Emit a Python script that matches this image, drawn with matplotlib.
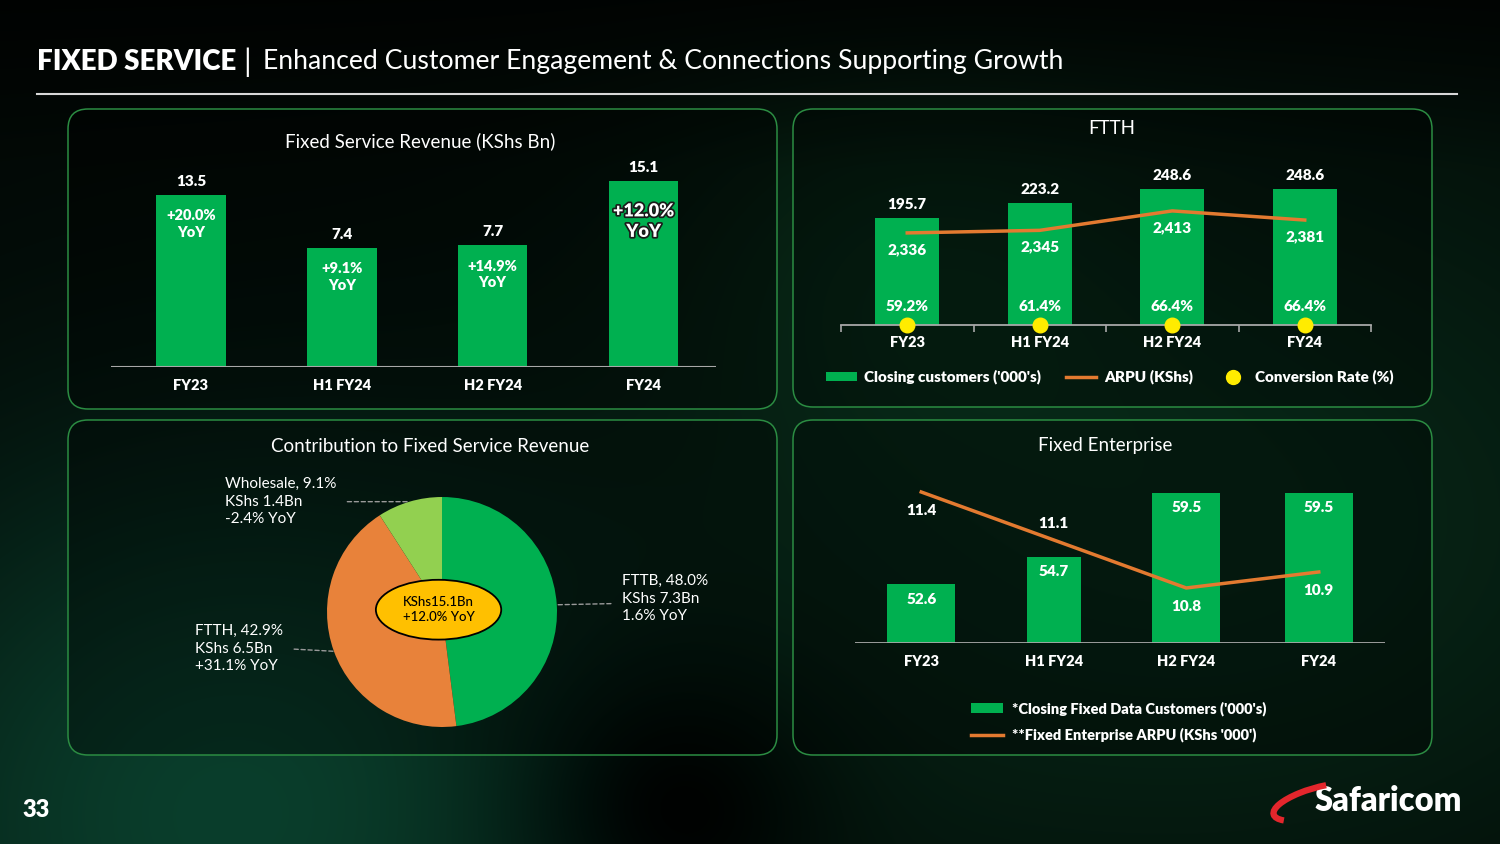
import numpy as np
import matplotlib
matplotlib.use("Agg")
import matplotlib.pyplot as plt
import matplotlib.patheffects as pe
from matplotlib.patches import FancyBboxPatch, Ellipse, Patch, Arc
from matplotlib.lines import Line2D

plt.rcParams["font.family"] = ["Lato", "DejaVu Sans"]

# ── Data ─────────────────────────────────────────────────────────────────────
periods = ["FY23", "H1 FY24", "H2 FY24", "FY24"]

revenue = [13.5, 7.4, 7.7, 15.1]                  # KShs Bn
revenue_yoy = ["+20.0%", "+9.1%", "+14.9%", "+12.0%"]

ftth_customers = [195.7, 223.2, 248.6, 248.6]     # '000s
ftth_arpu = [2336, 2345, 2413, 2381]              # KShs
ftth_conversion = [59.2, 61.4, 66.4, 66.4]        # %

ent_customers = [52.6, 54.7, 59.5, 59.5]          # '000s
ent_arpu = [11.4, 11.1, 10.8, 10.9]               # KShs '000

pie_names = ["FTTB", "FTTH", "Wholesale"]
pie_share = [48.0, 42.9, 9.1]
pie_value = [7.3, 6.5, 1.4]
pie_yoy = ["1.6%", "+31.1%", "-2.4%"]
pie_total = 15.1
pie_total_yoy = "+12.0%"

# ── Style ────────────────────────────────────────────────────────────────────
GREEN = "#00b050"
LIGHT_GREEN = "#92d050"
ORANGE = "#e8823a"
LINE_ORANGE = "#e37a30"
YELLOW = "#ffec00"
GOLD = "#ffc000"
BORDER = "#2b8c42"
AXIS_GREY = "#a8a8a8"
HEAVY = "heavy"

W, H = 1500, 844
fig = plt.figure(figsize=(W / 100, H / 100), dpi=100)


def px_axes(x0, y0, x1, y1):
    """Axes placed by pixel box (top-left origin)."""
    return fig.add_axes([x0 / W, 1 - y1 / H, (x1 - x0) / W, (y1 - y0) / H])


def fig_xy(x, y):
    return x / W, 1 - y / H


# ── Background ───────────────────────────────────────────────────────────────
bg = px_axes(0, 0, W, H)
yy, xx = np.mgrid[0:H, 0:W]
img = np.zeros((H, W, 3))
img[:] = (0.008, 0.028, 0.018)


def glow(cx, cy, rx, ry, col):
    d = ((xx - cx) / rx) ** 2 + ((yy - cy) / ry) ** 2
    return np.exp(-d)[..., None] * np.array(col)


img += glow(220, 820, 420, 380, (0.03, 0.21, 0.15))
img += glow(1200, 520, 600, 420, (0.02, 0.12, 0.07))
img += glow(900, 250, 250, 200, (0.01, 0.06, 0.03))
img -= glow(660, 800, 160, 140, (0.03, 0.12, 0.08))
img *= np.clip(0.35 + yy / 260, 0, 1)[..., None]
img = np.clip(img, 0, 1)
bg.imshow(img, extent=(0, W, H, 0), aspect="auto", zorder=0)
bg.set_xlim(0, W)
bg.set_ylim(H, 0)
bg.axis("off")

# panels
for (x0, y0, x1, y1) in [(68, 109, 777, 409), (793, 109, 1432, 407),
                         (68, 420, 777, 755), (793, 420, 1432, 755)]:
    bg.add_patch(FancyBboxPatch((x0, y0), x1 - x0, y1 - y0,
                                boxstyle="round,pad=0,rounding_size=20",
                                facecolor="black", alpha=0.35, edgecolor="none"))
    bg.add_patch(FancyBboxPatch((x0, y0), x1 - x0, y1 - y0,
                                boxstyle="round,pad=0,rounding_size=20",
                                facecolor="none", edgecolor=BORDER, lw=1.1))

# header
bg.text(37, 62, "FIXED SERVICE", color="white", fontsize=20, fontweight=HEAVY, va="center")
bg.text(243, 62, "|", color="white", fontsize=22, va="center")
bg.text(263, 62, "Enhanced Customer Engagement & Connections Supporting Growth",
        color="white", fontsize=19.2, va="center")
bg.plot([37, 1457], [94, 94], color="#d8d8d8", lw=1.5)

# footer
bg.text(22, 810, "33", color="white", fontsize=17, fontweight=HEAVY, va="center")
bg.text(1462, 801, "Safaricom", color="white", fontsize=23.5, fontweight=HEAVY,
        va="center", ha="right")
logo = px_axes(1262, 770, 1342, 830)
logo.set_xlim(0, 80)
logo.set_ylim(0, 60)
logo.axis("off")
logo.add_patch(Arc((58, 28), 96, 30, angle=15, theta1=55, theta2=192,
                   color="#e3262c", lw=4.5))

# panel titles
bg.text(420, 141, "Fixed Service Revenue (KShs Bn)", color="white", fontsize=13.5,
        ha="center", va="center")
bg.text(1112, 128, "FTTH", color="white", fontsize=13.5, ha="center", va="center")
bg.text(430, 446, "Contribution to Fixed Service Revenue", color="white", fontsize=13.5,
        ha="center", va="center")
bg.text(1105, 445, "Fixed Enterprise", color="white", fontsize=13.5,
        ha="center", va="center")


def clean(ax):
    ax.set_facecolor("none")
    for s in ax.spines.values():
        s.set_visible(False)
    ax.set_yticks([])
    ax.tick_params(axis="x", length=0, colors="white", labelsize=10.5, pad=9)
    for lab in ax.get_xticklabels():
        lab.set_fontweight(HEAVY)


x = np.arange(len(periods))

# ── 1. Fixed Service Revenue ─────────────────────────────────────────────────
ax1 = px_axes(111, 160, 716, 367)
BASE1 = -6.3
ax1.bar(x, np.array(revenue) - BASE1, bottom=BASE1, width=0.46, color=GREEN, zorder=2)
ax1.axhline(BASE1, color=AXIS_GREY, lw=1.5, zorder=3)
ax1.set_xlim(-0.53, 3.48)
ax1.set_ylim(BASE1, 17.5)
ax1.set_xticks(x, periods)
clean(ax1)
for i, (v, yoy) in enumerate(zip(revenue, revenue_yoy)):
    ax1.annotate(f"{v}", (i, v), xytext=(0, 5), textcoords="offset points",
                 ha="center", va="bottom", color="white", fontsize=11, fontweight=HEAVY)
    if i == 3:
        ax1.annotate(f"{yoy}\nYoY", (i, v), xytext=(0, -29), textcoords="offset points",
                     ha="center", va="center", color="white", fontsize=13,
                     fontweight=HEAVY, linespacing=1.25,
                     path_effects=[pe.withStroke(linewidth=2.5, foreground="#1a1a1a")])
    else:
        ax1.annotate(f"{yoy}\nYoY", (i, v), xytext=(0, -21), textcoords="offset points",
                     ha="center", va="center", color="white", fontsize=10.5,
                     fontweight=HEAVY, linespacing=1.3)

# ── 2. FTTH ──────────────────────────────────────────────────────────────────
ax2 = px_axes(841, 160, 1371, 325)
ax2.bar(x, ftth_customers, width=0.48, color=GREEN, zorder=2)
ax2.set_xlim(-0.5, 3.5)
ax2.set_ylim(0, 301)
ax2.set_xticks(x, periods)
clean(ax2)
ax2.spines["bottom"].set_visible(True)
ax2.spines["bottom"].set_color(AXIS_GREY)
ax2.spines["bottom"].set_linewidth(1.3)
ax2.set_xticks(np.arange(-0.5, 4), minor=True)
ax2.tick_params(axis="x", which="minor", length=5, color=AXIS_GREY, width=1.2)
ax2.tick_params(axis="x", which="major", pad=8)
ax2.scatter(x, np.zeros(len(x)), s=110, color=YELLOW, zorder=5, clip_on=False)
for i, (v, c) in enumerate(zip(ftth_customers, ftth_conversion)):
    ax2.annotate(f"{v}", (i, v), xytext=(0, 5), textcoords="offset points",
                 ha="center", va="bottom", color="white", fontsize=11, fontweight=HEAVY)
    ax2.annotate(f"{c}%", (i, 0), xytext=(0, 13.5), textcoords="offset points",
                 ha="center", va="center", color="white", fontsize=11, fontweight=HEAVY)

ax2b = ax2.twinx()
ax2b.plot(x, ftth_arpu, color=LINE_ORANGE, lw=2.5, zorder=3)
ax2b.set_ylim(2014, 2591)
ax2b.set_facecolor("none")
for s in ax2b.spines.values():
    s.set_visible(False)
ax2b.set_yticks([])
for i, a in enumerate(ftth_arpu):
    ax2b.annotate(f"{a:,}", (i, a), xytext=(0, -12), textcoords="offset points",
                  ha="center", va="center", color="white", fontsize=11, fontweight=HEAVY)

leg2 = [Patch(facecolor=GREEN, label="Closing customers ('000's)"),
        Line2D([], [], color=LINE_ORANGE, lw=2.5, label="ARPU (KShs)"),
        Line2D([], [], color=YELLOW, marker="o", ls="", markersize=10,
               label="Conversion Rate (%)")]
fig.legend(handles=leg2, loc="center", bbox_to_anchor=fig_xy(1110, 377), ncol=3,
           frameon=False, labelcolor="white", handlelength=2.0, handleheight=0.5,
           columnspacing=1.6, handletextpad=0.5,
           prop={"size": 11, "weight": HEAVY})

# ── 3. Contribution pie ──────────────────────────────────────────────────────
ax3 = px_axes(442 - 115, 612 - 115, 442 + 115, 612 + 115)
wedges, _ = ax3.pie(pie_share, colors=[GREEN, ORANGE, LIGHT_GREEN], startangle=90,
                    counterclock=False, radius=1, wedgeprops={"linewidth": 0})
ax3.set_xlim(-1, 1)
ax3.set_ylim(-1, 1)
ax3.set_aspect("equal")
ax3.add_patch(Ellipse((-0.03, 0.02), 1.09, 0.52, facecolor=GOLD, edgecolor="black",
                      lw=1.3, zorder=5))
ax3.text(-0.03, 0.02, f"KShs{pie_total}Bn\n{pie_total_yoy} YoY", ha="center",
         va="center", fontsize=9.5, color="black", zorder=6, linespacing=1.3,
         fontweight="medium")

label_style = {
    # name: (dx, dy, ha, relpos)
    "FTTB": (47, 4.5, "left", (0, 0.4)),
    "FTTH": (-100, 2, "left", (1, 0.5)),
    "Wholesale": (-133, 0, "left", (1, 0.5)),
}
for w, name, sh, val, yoy in zip(wedges, pie_names, pie_share, pie_value, pie_yoy):
    mid = np.deg2rad((w.theta1 + w.theta2) / 2)
    anchor = (np.cos(mid), np.sin(mid))
    dx, dy, ha, rel = label_style[name]
    ax3.annotate(f"{name}, {sh}%\nKShs {val}Bn\n{yoy} YoY", anchor,
                 xytext=(dx, dy), textcoords="offset points", ha=ha, va="center",
                 color="white", fontsize=11, linespacing=1.3, annotation_clip=False,
                 arrowprops=dict(arrowstyle="-", color="#9a9a9a", lw=1,
                                 linestyle=(0, (3, 2)), relpos=rel,
                                 shrinkA=6, shrinkB=0))

# ── 4. Fixed Enterprise ──────────────────────────────────────────────────────
ax4 = px_axes(855, 470, 1385, 643)
BASE4 = 48.2
ax4.bar(x, np.array(ent_customers) - BASE4, bottom=BASE4,
        width=[0.51, 0.41, 0.51, 0.51], color=GREEN, zorder=2)
ax4.axhline(BASE4, color=AXIS_GREY, lw=1.3, zorder=3)
ax4.set_xlim(-0.5, 3.5)
ax4.set_ylim(BASE4, 61.2)
ax4.set_xticks(x, periods)
clean(ax4)
for i, v in enumerate(ent_customers):
    ax4.annotate(f"{v}", (i, v), xytext=(0, -10.5), textcoords="offset points",
                 ha="center", va="center", color="white", fontsize=11, fontweight=HEAVY)

ax4b = ax4.twinx()
ax4b.plot(x, ent_arpu, color=LINE_ORANGE, lw=2.5, zorder=3)
ax4b.set_ylim(10.456, 11.5375)
ax4b.set_facecolor("none")
for s in ax4b.spines.values():
    s.set_visible(False)
ax4b.set_yticks([])
for i, (a, off) in enumerate(zip(ent_arpu, [-13, 12, -13, -13])):
    ax4b.annotate(f"{a}", (i, a), xytext=(0, off), textcoords="offset points",
                  ha="center", va="center", color="white", fontsize=11, fontweight=HEAVY)

leg4 = [Patch(facecolor=GREEN, label="*Closing Fixed Data Customers ('000's)"),
        Line2D([], [], color=LINE_ORANGE, lw=2.5,
               label="**Fixed Enterprise ARPU (KShs '000')")]
fig.legend(handles=leg4, loc="upper left", bbox_to_anchor=fig_xy(958, 688), ncol=1,
           frameon=False, labelcolor="white", handlelength=2.2, handleheight=0.6,
           labelspacing=0.8, handletextpad=0.6,
           prop={"size": 10.5, "weight": HEAVY})

fig.savefig("out.png", dpi=100, facecolor="black")
